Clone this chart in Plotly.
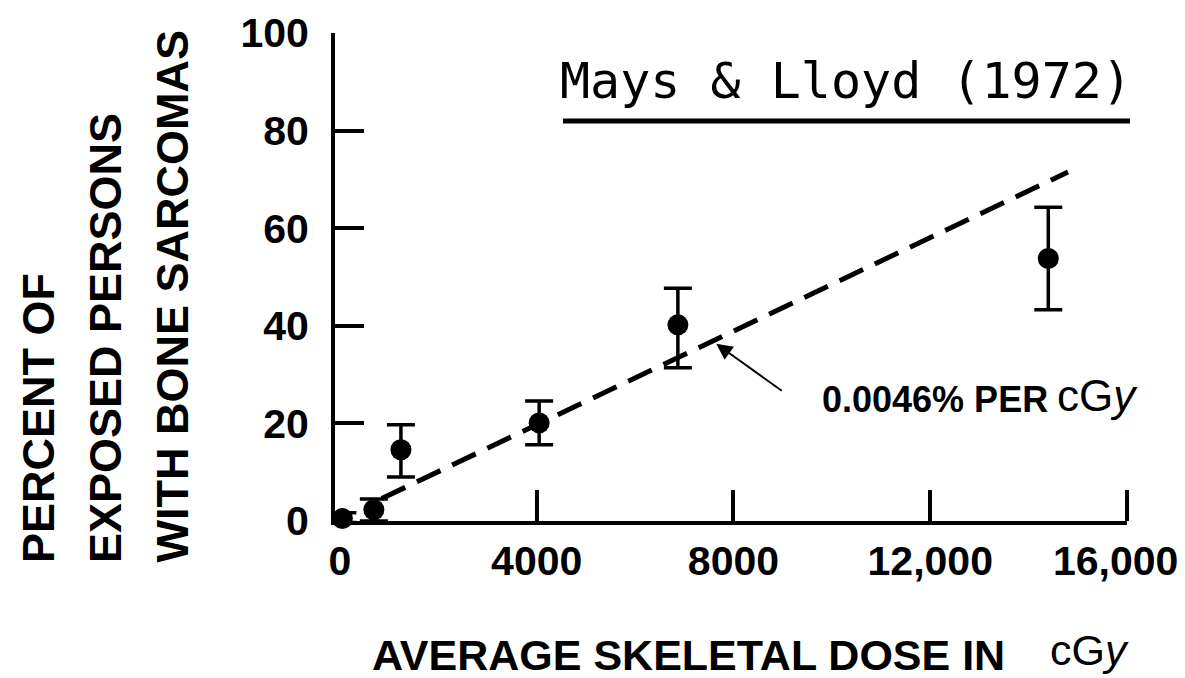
import plotly.graph_objects as go

# ---- data ----
dose_cgy = [50, 690, 1240, 4050, 6870, 14400]
percent = [0.5, 2.3, 14.6, 20.1, 40.2, 53.8]
err_plus = [1.2, 2.2, 5.1, 4.5, 7.5, 10.5]
err_minus = [0.8, 2.3, 5.6, 4.5, 8.8, 10.5]

fit_x = [850, 14800]
fit_y = [4.6, 71.5]

x_tickvals = [0, 4000, 8000, 12000, 16000]
x_ticktext = ["0", "4000", "8000", "12,000", "16,000\u00a0\u00a0"]
y_tickvals = [0, 20, 40, 60, 80, 100]
y_ticktext = ["0", "20", "40", "60", "80", "100"]

arrow_target = (7650, 36.3)

title_text = "Mays & Lloyd (1972)"
x_title = "AVERAGE SKELETAL DOSE IN"
y_title_lines = ["PERCENT OF", "EXPOSED PERSONS", "WITH BONE SARCOMAS"]
slope_label = "0.0046% PER"
unit_label = "cG<i>y</i>"

BOLD = "Liberation Sans, Arial, sans-serif"

fig = go.Figure()

fig.add_trace(go.Scatter(
    x=fit_x, y=fit_y, mode="lines",
    line=dict(color="black", width=5, dash="26px,13px"),
    hoverinfo="skip", showlegend=False,
))

fig.add_trace(go.Scatter(
    x=dose_cgy, y=percent, mode="markers",
    marker=dict(color="black", size=21),
    error_y=dict(type="data", symmetric=False, array=err_plus, arrayminus=err_minus,
                 color="black", thickness=3.5, width=14),
    cliponaxis=False, showlegend=False,
))

fig.update_layout(
    width=1185, height=678,
    margin=dict(l=335, r=58, t=33, b=157, autoexpand=False),
    paper_bgcolor="white", plot_bgcolor="white",
    xaxis=dict(
        range=[-100, 16000], showgrid=False, zeroline=False, automargin=False,
        showline=True, linecolor="black", linewidth=4,
        tickmode="array", tickvals=x_tickvals, ticktext=x_ticktext,
        ticks="", ticklabelstandoff=1, ticklabeloverflow="allow",
        tickfont=dict(family=BOLD, size=41, color="black", weight="bold"),
        minor=dict(tickmode="array", tickvals=x_tickvals[1:], ticks="inside",
                   ticklen=31, tickwidth=4, tickcolor="black", showgrid=False),
    ),
    yaxis=dict(
        range=[0, 100], showgrid=False, zeroline=False, automargin=False,
        showline=True, linecolor="black", linewidth=4,
        tickmode="array", tickvals=y_tickvals, ticktext=y_ticktext,
        ticks="inside", ticklen=29, tickwidth=4, tickcolor="black",
        ticklabelstandoff=14,
        tickfont=dict(family=BOLD, size=41, color="black", weight="bold"),
    ),
)

def px_x(p):
    return (p - 335) / 792

def px_y(p):
    return (521 - p) / 488

annotations = []
# title
annotations.append(dict(
    text=title_text, xref="paper", yref="paper", x=px_x(558), y=px_y(81),
    xanchor="left", yanchor="middle", showarrow=False,
    font=dict(family="DejaVu Sans Mono, monospace", size=50, color="black"),
))
# x title
annotations.append(dict(
    text=x_title, xref="paper", yref="paper", x=px_x(370), y=px_y(655),
    xanchor="left", yanchor="middle", showarrow=False,
    font=dict(family=BOLD, size=43, color="black", weight="bold"),
))
annotations.append(dict(
    text=unit_label, xref="paper", yref="paper", x=px_x(1048), y=px_y(650),
    xanchor="left", yanchor="middle", showarrow=False,
    font=dict(family=BOLD, size=43, color="black"),
))
# y title lines
for cx, line in zip([38, 105, 172], y_title_lines):
    annotations.append(dict(
        text=line, xref="paper", yref="paper", x=px_x(cx), y=px_y(565),
        xanchor="center", yanchor="bottom", textangle=-90, showarrow=False,
        font=dict(family=BOLD, size=45, color="black", weight="bold"),
    ))
# slope label
annotations.append(dict(
    text=slope_label, xref="paper", yref="paper", x=px_x(820), y=px_y(399),
    xanchor="left", yanchor="middle", showarrow=False,
    font=dict(family=BOLD, size=36, color="black", weight="bold"),
))
annotations.append(dict(
    text=unit_label, xref="paper", yref="paper", x=px_x(1055), y=px_y(395),
    xanchor="left", yanchor="middle", showarrow=False,
    font=dict(family=BOLD, size=44, color="black"),
))
# arrow
annotations.append(dict(
    text="", x=arrow_target[0], y=arrow_target[1], xref="x", yref="y",
    showarrow=True, ax=67, ay=48, axref="pixel", ayref="pixel",
    arrowhead=2, arrowsize=1.6, arrowwidth=2, arrowcolor="black",
))
fig.update_layout(annotations=annotations)

# underline of title
fig.add_shape(type="line", xref="paper", yref="paper",
              x0=px_x(563), x1=px_x(1130), y0=px_y(121), y1=px_y(121),
              line=dict(color="black", width=5))

fig.write_html("out.html", config={"displayModeBar": False},
               post_script="document.body.style.margin='0px';")
